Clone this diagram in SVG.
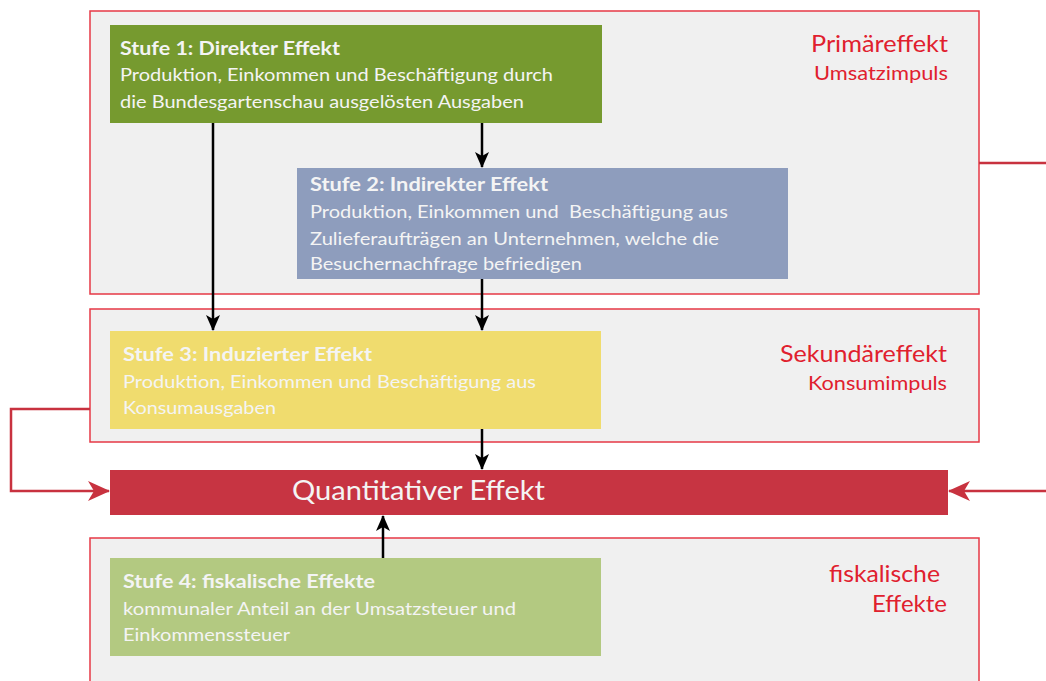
<svg xmlns="http://www.w3.org/2000/svg" width="1046" height="681" viewBox="0 0 1046 681">
<defs>
<style>
.frame{fill:#f0f0f0;stroke:#e63946;stroke-width:1.5}
.t{font-family:Lato,"Open Sans",sans-serif;fill:#f4f4f4}
.h{font-size:19px;font-weight:bold}
.b{font-size:18px}
.r{font-family:Lato,"Open Sans",sans-serif;fill:#e0202e;text-anchor:end}
.blk{stroke:#000;stroke-width:2.5;fill:none}
.red{stroke:#c8323f;stroke-width:2.5;fill:none}
</style>
<marker id="ab" markerWidth="16" markerHeight="14" refX="15" refY="7" orient="auto" markerUnits="userSpaceOnUse" viewBox="0 0 16 14">
<path d="M0,0 L16,7 L0,14 L4,7 Z" fill="#000"/>
</marker>
<marker id="ar" markerWidth="22" markerHeight="20" refX="21" refY="10" orient="auto" markerUnits="userSpaceOnUse" viewBox="0 0 22 20">
<path d="M0,0 L22,10 L0,20 L6,10 Z" fill="#c8323f"/>
</marker>
</defs>
<g id="primaer">
<rect class="frame" x="90" y="11" width="889" height="283"/>
<text class="r" x="948" y="52" font-size="23" textLength="137" lengthAdjust="spacingAndGlyphs">Primäreffekt</text>
<text class="r" x="948" y="80" font-size="19" textLength="134" lengthAdjust="spacingAndGlyphs">Umsatzimpuls</text>
</g>
<g id="sekundaer">
<rect class="frame" x="90" y="309" width="889" height="133"/>
<text class="r" x="947" y="362" font-size="23" textLength="167" lengthAdjust="spacingAndGlyphs">Sekundäreffekt</text>
<text class="r" x="947" y="390" font-size="19" textLength="139" lengthAdjust="spacingAndGlyphs">Konsumimpuls</text>
</g>
<g id="fiskal">
<rect class="frame" x="90" y="538" width="889" height="150"/>
<text class="r" x="940" y="582" font-size="23" textLength="111" lengthAdjust="spacingAndGlyphs">fiskalische</text>
<text class="r" x="947" y="612" font-size="23" textLength="75" lengthAdjust="spacingAndGlyphs">Effekte</text>
</g>
<g id="connectors">
<line class="blk" x1="213" y1="107" x2="213" y2="330" marker-end="url(#ab)"/>
<line class="blk" x1="482" y1="123" x2="482" y2="167" marker-end="url(#ab)"/>
<line class="blk" x1="482" y1="279" x2="482" y2="330" marker-end="url(#ab)"/>
<line class="blk" x1="482" y1="425" x2="482" y2="469" marker-end="url(#ab)"/>
<line class="blk" x1="383" y1="558" x2="383" y2="516" marker-end="url(#ab)"/>
<path class="red" d="M90,409 H11 V491 H109" marker-end="url(#ar)"/>
<path class="red" d="M979,163 H1060 V491 H949" marker-end="url(#ar)"/>
</g>
<g id="stufe1">
<rect x="110" y="25" width="492" height="98" fill="#769a2f"/>
<text class="t h" x="120" y="55" textLength="220" lengthAdjust="spacingAndGlyphs">Stufe 1: Direkter Effekt</text>
<text class="t b" x="120" y="81" textLength="433" lengthAdjust="spacingAndGlyphs">Produktion, Einkommen und Beschäftigung durch</text>
<text class="t b" x="120" y="108" textLength="404" lengthAdjust="spacingAndGlyphs">die Bundesgartenschau ausgelösten Ausgaben</text>
</g>
<g id="stufe2">
<rect x="297" y="168" width="491" height="111" fill="#8e9dbd"/>
<text class="t h" x="310" y="191" textLength="238" lengthAdjust="spacingAndGlyphs">Stufe 2: Indirekter Effekt</text>
<text class="t b" x="310" y="218" textLength="418" lengthAdjust="spacingAndGlyphs" xml:space="preserve">Produktion, Einkommen und  Beschäftigung aus</text>
<text class="t b" x="310" y="245" textLength="409" lengthAdjust="spacingAndGlyphs">Zulieferaufträgen an Unternehmen, welche die</text>
<text class="t b" x="310" y="270" textLength="272" lengthAdjust="spacingAndGlyphs">Besuchernachfrage befriedigen</text>
</g>
<g id="stufe3">
<rect x="110" y="331" width="491" height="98" fill="#f0dc6e"/>
<text class="t h" x="123" y="361" textLength="249" lengthAdjust="spacingAndGlyphs">Stufe 3: Induzierter Effekt</text>
<text class="t b" x="123" y="388" textLength="413" lengthAdjust="spacingAndGlyphs">Produktion, Einkommen und Beschäftigung aus</text>
<text class="t b" x="123" y="414" textLength="153" lengthAdjust="spacingAndGlyphs">Konsumausgaben</text>
</g>
<g id="quant">
<rect x="110" y="470" width="838" height="45" fill="#c73442"/>
<text class="t" x="292" y="500" font-size="27" textLength="253" lengthAdjust="spacingAndGlyphs">Quantitativer Effekt</text>
</g>
<g id="stufe4">
<rect x="110" y="558" width="491" height="98" fill="#b3c981"/>
<text class="t h" x="123" y="588" textLength="252" lengthAdjust="spacingAndGlyphs">Stufe 4: fiskalische Effekte</text>
<text class="t b" x="123" y="615" textLength="393" lengthAdjust="spacingAndGlyphs">kommunaler Anteil an der Umsatzsteuer und</text>
<text class="t b" x="123" y="641" textLength="167" lengthAdjust="spacingAndGlyphs">Einkommenssteuer</text>
</g>
</svg>
